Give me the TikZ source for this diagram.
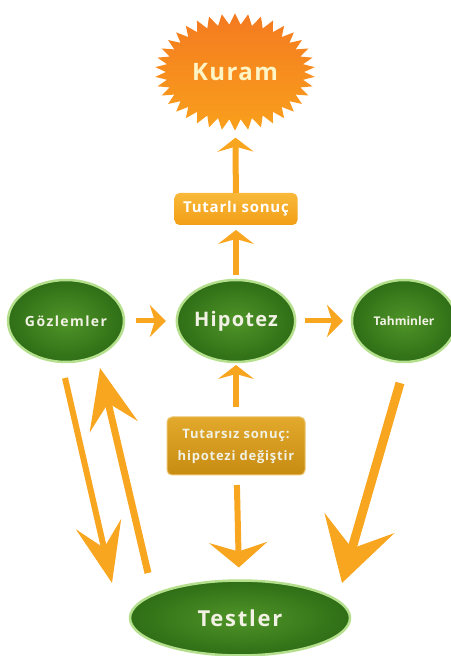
\documentclass[tikz,border=0pt]{standalone}
\usepackage{fontspec}
\setmainfont{Open Sans}
\usetikzlibrary{shapes.geometric,shapes.symbols,arrows.meta,calc}

\definecolor{leaf}{HTML}{2F6E16}
\definecolor{leafin}{HTML}{4F9428}
\definecolor{leafrim}{HTML}{B4E08E}
\definecolor{chalk}{HTML}{F1F1E4}
\definecolor{amber}{HTML}{F8A51F}
\definecolor{honeytop}{HTML}{F9B93A}
\definecolor{honeybot}{HTML}{F29E17}
\definecolor{goldtop}{HTML}{E2A92C}
\definecolor{goldbot}{HTML}{C78B12}
\definecolor{sunred}{HTML}{F47A20}
\definecolor{sunmid}{HTML}{FDC31A}
\definecolor{sunlow}{HTML}{F9A01C}
\definecolor{sunink}{HTML}{FFF4C4}

\begin{document}
\begin{tikzpicture}[x=1pt,y=1pt]
\tikzset{ >=Stealth, inner sep=0pt, outer sep=0pt,
  ball/.style={ellipse, inner color=leafin, outer color=leaf, draw=leafrim,
    line width=2.5pt, text=chalk},
  plate/.style={rounded corners=5pt, top color=honeytop, bottom color=honeybot,
    text=white},
  darkplate/.style={rounded corners=5pt, top color=goldtop, bottom color=goldbot,
    draw=goldtop!70!white, line width=1pt, text=chalk, align=center},
  pipe/.style={draw=amber, line width=6pt},
}

%\draw [lightgray, dashed](0,0) grid[step=50] (450,656);
\useasboundingbox (0,0) rectangle (450,656);

\node [starburst, starburst points=38, starburst point height=11pt,
  random starburst=0, minimum width=160pt, minimum height=117pt,
  top color=sunred, middle color=sunmid, bottom color=sunlow, text=sunink,
  font=\bfseries\fontsize{24}{24}\selectfont\addfontfeatures{LetterSpace=6}]
  (kuram) at (235,584) {Kuram};

\node [plate, minimum width=123pt, minimum height=32pt,
  font=\bfseries\fontsize{15}{15}\selectfont\addfontfeatures{LetterSpace=5}]
  (tutarli) at (236,447) {Tutarlı sonuç};

\node [ball, minimum width=105pt, minimum height=82pt,
  font=\bfseries\fontsize{14}{14}\selectfont\addfontfeatures{LetterSpace=10}]
  (gozlem) at (66,335) {Gözlemler};
\node [ball, minimum width=104pt, minimum height=82pt,
  font=\bfseries\fontsize{20}{20}\selectfont\addfontfeatures{LetterSpace=6}]
  (hipotez) at (236,335) {Hipotez};
\node [ball, minimum width=104pt, minimum height=82pt,
  font=\bfseries\fontsize{12}{12}\selectfont]
  (tahmin) at (404,335) {Tahminler};

\node [darkplate, minimum width=138pt, minimum height=58pt,
  font=\bfseries\fontsize{13}{22}\selectfont\addfontfeatures{LetterSpace=6}]
  (tutarsiz) at (236,210) {Tutarsız sonuç:\\hipotezi değiştir};

\node [ball, minimum width=220pt, minimum height=75pt,
  font=\bfseries\fontsize{22}{22}\selectfont\addfontfeatures{LetterSpace=8}]
  (testler) at (240,38) {Testler};

% straight arrows
\draw [pipe, -{Stealth[length=14pt, width=36pt, inset=5pt]}, shorten >=8pt]
  (tutarli) -- (kuram);
\draw [pipe, -{Stealth[length=14pt, width=36pt, inset=5pt]},
  shorten <=5pt, shorten >=5pt] (hipotez) -- (tutarli);
\draw [pipe, -{Stealth[length=14pt, width=36pt, inset=5pt]},
  shorten <=10pt, shorten >=3pt] (tutarsiz) -- (hipotez);
\draw [pipe, -{Stealth[length=25pt, width=58pt, inset=9pt]},
  shorten <=10pt, shorten >=13pt] (tutarsiz) -- (testler);
\draw [pipe, line width=5pt, -{Stealth[length=16pt, width=32pt, inset=5pt]},
  shorten <=12pt, shorten >=11pt] (gozlem) -- (hipotez);
\draw [pipe, line width=5pt, -{Stealth[length=16pt, width=32pt, inset=5pt]},
  shorten <=10pt, shorten >=9pt] (hipotez) -- (tahmin);

% long arrows to and from the tests
\draw [pipe, -{Stealth[length=60pt, width=46pt, inset=24pt]}]
  ($(gozlem.south)+(-1,-16)$) -- ($(testler.west)+(-18,35)$);
\draw [pipe, line width=7pt, -{Stealth[length=60pt, width=49pt, inset=24pt]}]
  ($(testler.west)+(18,45)$) -- ($(gozlem.south)+(34,-6)$);
\draw [pipe, line width=9pt, -{Stealth[length=62pt, width=72pt, inset=26pt]}]
  ($(tahmin.south)+(-4,-21)$) -- ($(testler.east)+(-8,35)$);

\end{tikzpicture}
\end{document}
